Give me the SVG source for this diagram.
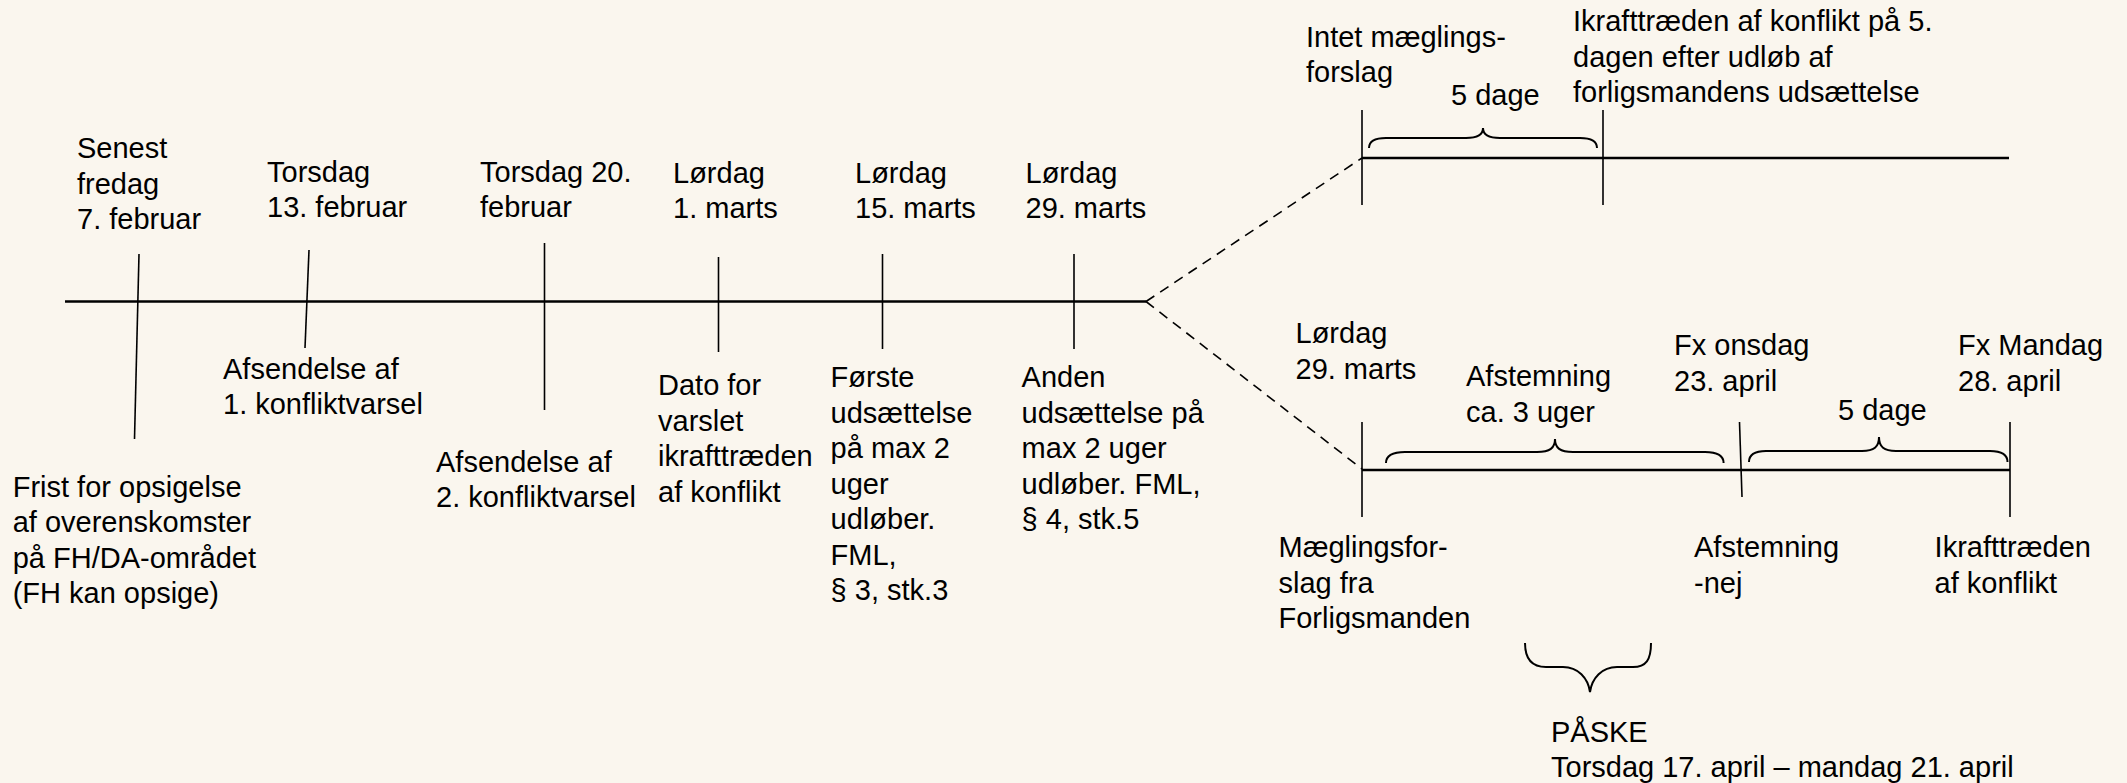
<svg xmlns="http://www.w3.org/2000/svg" width="2127" height="783" viewBox="0 0 2127 783">
<style>
text{font-family:"Liberation Sans",Arial,sans-serif;font-size:29px;fill:#000}
.axis{stroke:#000;stroke-width:2.5;fill:none}
.tick{stroke:#000;stroke-width:1.6;fill:none}
.dash{stroke:#000;stroke-width:1.6;fill:none;stroke-dasharray:10 7}
.brace{stroke:#000;stroke-width:2;fill:none}
</style>
<rect width="2127" height="783" fill="#FAF6EE"/>
<g id="connectors">
<line class="axis" x1="65" y1="301.5" x2="1146" y2="301.5"/>
<line class="dash" x1="1146" y1="301.5" x2="1362" y2="158"/>
<line class="dash" x1="1146" y1="301.5" x2="1362" y2="469"/>
<line class="axis" x1="1362" y1="158" x2="2009" y2="158"/>
<line class="axis" x1="1362" y1="470" x2="2010" y2="470"/>
</g>
<g id="n1"><line class="tick" x1="139" y1="254" x2="134.5" y2="439"/>
<text x="77" y="158.3">Senest</text><text x="77" y="193.8">fredag</text><text x="77" y="229.3">7. februar</text>
<text x="12.7" y="496.7">Frist for opsigelse</text><text x="12.7" y="532.2">af overenskomster</text><text x="12.7" y="567.7">på FH/DA-området</text><text x="12.7" y="603.2">(FH kan opsige)</text></g>
<g id="n2"><line class="tick" x1="309" y1="250" x2="305" y2="348"/>
<text x="267" y="181.7">Torsdag</text><text x="267" y="217.2">13. februar</text>
<text x="223" y="378.5">Afsendelse af</text><text x="223" y="414">1. konfliktvarsel</text></g>
<g id="n3"><line class="tick" x1="544.5" y1="243" x2="544.5" y2="410"/>
<text x="480" y="181.7">Torsdag 20.</text><text x="480" y="217.2">februar</text>
<text x="436" y="471.7">Afsendelse af</text><text x="436" y="507.2">2. konfliktvarsel</text></g>
<g id="n4"><line class="tick" x1="718.5" y1="257" x2="718.5" y2="352"/>
<text x="673" y="182.5">Lørdag</text><text x="673" y="218">1. marts</text>
<text x="658" y="395">Dato for</text><text x="658" y="430.5">varslet</text><text x="658" y="466">ikrafttræden</text><text x="658" y="501.5">af konflikt</text></g>
<g id="n5"><line class="tick" x1="882.5" y1="254" x2="882.5" y2="349"/>
<text x="855" y="182.5">Lørdag</text><text x="855" y="218">15. marts</text>
<text x="830.6" y="387">Første</text><text x="830.6" y="422.5">udsættelse</text><text x="830.6" y="458">på max 2</text><text x="830.6" y="493.5">uger</text><text x="830.6" y="529">udløber.</text><text x="830.6" y="564.5">FML,</text><text x="830.6" y="600">§ 3, stk.3</text></g>
<g id="n6"><line class="tick" x1="1074" y1="254" x2="1074" y2="349"/>
<text x="1025.5" y="182.5">Lørdag</text><text x="1025.5" y="218">29. marts</text>
<text x="1021.6" y="387">Anden</text><text x="1021.6" y="422.5">udsættelse på</text><text x="1021.6" y="458">max 2 uger</text><text x="1021.6" y="493.5">udløber. FML,</text><text x="1021.6" y="529">§ 4, stk.5</text></g>
<g id="u1"><line class="tick" x1="1362" y1="110" x2="1362" y2="205"/>
<text x="1306" y="46.5">Intet mæglings-</text><text x="1306" y="82">forslag</text></g>
<g id="u2"><line class="tick" x1="1603" y1="110" x2="1603" y2="205"/>
<text x="1573" y="31">Ikrafttræden af konflikt på 5.</text><text x="1573" y="66.5">dagen efter udløb af</text><text x="1573" y="102">forligsmandens udsættelse</text></g>
<g id="u-brace"><path class="brace" d="M1369,148 C1369,141 1376,138 1386,138 L1466,138 C1476,138 1483,136 1483,128 C1483,136 1490,138 1500,138 L1580,138 C1590,138 1597,141 1597,148"/>
<text x="1451" y="105">5 dage</text></g>
<g id="l1"><line class="tick" x1="1362" y1="422" x2="1362" y2="517"/>
<text x="1295.5" y="343">Lørdag</text><text x="1295.5" y="378.5">29. marts</text>
<text x="1278.5" y="557">Mæglingsfor-</text><text x="1278.5" y="592.5">slag fra</text><text x="1278.5" y="628">Forligsmanden</text></g>
<g id="l-brace1"><path class="brace" d="M1386,463 C1386,455 1393,452 1405,452 L1537,452 C1550,452 1555,448 1555,439 C1555,448 1560,452 1573,452 L1705,452 C1717,452 1723.6,455 1723.6,463"/>
<text x="1466" y="386">Afstemning</text><text x="1466" y="421.5">ca. 3 uger</text></g>
<g id="l2"><line class="tick" x1="1739.5" y1="422" x2="1742" y2="497"/>
<text x="1674" y="355">Fx onsdag</text><text x="1674" y="390.5">23. april</text>
<text x="1694" y="557">Afstemning</text><text x="1694" y="592.5">-nej</text></g>
<g id="l-brace2"><path class="brace" d="M1749,462 C1749,454 1755,451 1766,451 L1862,451 C1874,451 1879,447 1879,437 C1879,447 1884,451 1896,451 L1990,451 C2001,451 2007.5,454 2007.5,462"/>
<text x="1838" y="420">5 dage</text></g>
<g id="l3"><line class="tick" x1="2010" y1="422" x2="2010" y2="517"/>
<text x="1958" y="355">Fx Mandag</text><text x="1958" y="390.5">28. april</text>
<text x="1934.6" y="557">Ikrafttræden</text><text x="1934.6" y="592.5">af konflikt</text></g>
<g id="paaske"><path class="brace" d="M1525,643 C1525,660 1533,667 1546,667 L1563,667 C1578,667 1588,678 1590,692 C1592,678 1602,667 1617,667 L1633,667 C1646,667 1651,660 1651,643"/>
<text x="1551" y="741.7">PÅSKE</text><text x="1551" y="777">Torsdag 17. april – mandag 21. april</text></g>
</svg>
